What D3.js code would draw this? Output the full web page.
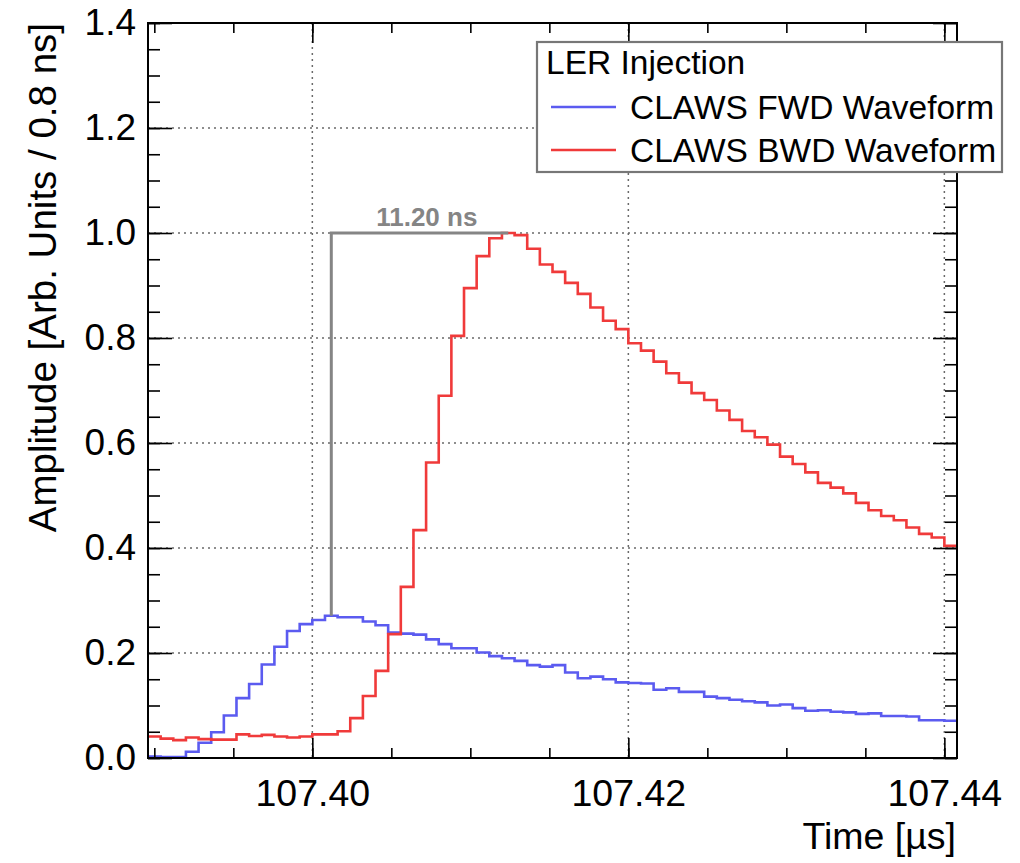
<!DOCTYPE html>
<html><head><meta charset="utf-8">
<script src="https://cdn.jsdelivr.net/npm/d3@7"></script>
<style>body{margin:0;background:#fff}</style>
</head><body>
<svg id="c" width="1020" height="863"></svg>
<script>
// ---- data ----
const binStart = 107.3896;      // µs, left edge of first bin
const binWidth = 0.0008;        // µs (0.8 ns)
const fwdWaveform = [0.003,0.002,0.002,0.012,0.029,0.049,0.081,0.114,0.141,0.178,
  0.212,0.242,0.255,0.263,0.271,0.268,0.268,0.260,0.253,0.239,
  0.237,0.235,0.226,0.217,0.209,0.209,0.201,0.194,0.190,0.185,
  0.177,0.174,0.177,0.163,0.152,0.155,0.150,0.144,0.143,0.142,
  0.130,0.133,0.126,0.126,0.117,0.114,0.111,0.108,0.106,0.100,
  0.102,0.095,0.090,0.091,0.088,0.087,0.084,0.085,0.080,0.080,
  0.079,0.072,0.072,0.071];
const bwdWaveform = [0.041,0.037,0.034,0.039,0.036,0.035,0.035,0.045,0.042,0.044,
  0.041,0.039,0.041,0.045,0.045,0.051,0.076,0.118,0.166,0.236,
  0.326,0.434,0.563,0.690,0.804,0.895,0.956,0.990,1.000,0.996,
  0.970,0.940,0.926,0.905,0.884,0.858,0.833,0.817,0.790,0.776,
  0.755,0.733,0.715,0.695,0.682,0.662,0.644,0.623,0.611,0.597,
  0.574,0.560,0.544,0.524,0.515,0.504,0.486,0.472,0.461,0.453,
  0.439,0.427,0.420,0.404];
const seriesNames = ["CLAWS FWD Waveform", "CLAWS BWD Waveform"];
const legendTitle = "LER Injection";
const xTickValues = [107.40, 107.42, 107.44];
const xTickLabels = ["107.40", "107.42", "107.44"];
const xMinorTicks = [107.39,107.395,107.40,107.405,107.41,107.415,107.42,107.425,107.43,107.435,107.44];
const yTickValues = [0,0.2,0.4,0.6,0.8,1.0,1.2,1.4];
const yTickLabels = ["0.0","0.2","0.4","0.6","0.8","1.0","1.2","1.4"];
const yMinorTicks = d3.range(0, 29).map(i => i*0.05);
const fwdPeakBin = 14, bwdPeakBin = 28;
const xTitle = "Time [µs]";
const yTitle = "Amplitude [Arb. Units / 0.8 ns]";

// ---- layout ----
const m = {l:148, r:957, t:23, b:758};
const FONT = "'Liberation Sans', Arial, Helvetica, sans-serif";
const blue = "#5b5bf0", red = "#f03a3a";
const nb = fwdWaveform.length;
const x = d3.scaleLinear().domain([binStart, binStart + binWidth*nb]).range([m.l, m.r]);
const y = d3.scaleLinear().domain([0, 1.4]).range([m.b, m.t]);
const svg = d3.select("#c");
svg.append("rect").attr("width",1020).attr("height",863).attr("fill","#fff");

// grid
const grid = svg.append("g").attr("stroke","#6a6a6a").attr("stroke-width",1.5).attr("stroke-dasharray","2,4");
grid.selectAll("line.gx").data(xTickValues).join("line")
  .attr("x1", d=>x(d)).attr("x2", d=>x(d)).attr("y1", m.t).attr("y2", m.b);
grid.selectAll("line.gy").data(yTickValues.slice(1,-1)).join("line")
  .attr("y1", d=>y(d)).attr("y2", d=>y(d)).attr("x1", m.l).attr("x2", m.r);

// histograms
function stepPts(vals){
  const pts = vals.map((v,i)=>[binStart + i*binWidth, v]);
  pts.push([binStart + vals.length*binWidth, vals[vals.length-1]]);
  return pts;
}
const line = d3.line().x(d=>x(d[0])).y(d=>y(d[1])).curve(d3.curveStepAfter);
svg.append("path").attr("d", line(stepPts(fwdWaveform))).attr("fill","none").attr("stroke",blue).attr("stroke-width",2.6);
svg.append("path").attr("d", line(stepPts(bwdWaveform))).attr("fill","none").attr("stroke",red).attr("stroke-width",2.6);

// annotation
const cx = i => x(binStart + (i+0.5)*binWidth);
const ax1 = cx(fwdPeakBin), ax2 = cx(bwdPeakBin);
svg.append("path")
  .attr("d", `M${ax1},${y(fwdWaveform[fwdPeakBin])}V${y(bwdWaveform[bwdPeakBin])}H${ax2}`)
  .attr("fill","none").attr("stroke","#858585").attr("stroke-width",3);
svg.append("text").attr("x",(ax1+ax2)/2+7).attr("y", y(bwdWaveform[bwdPeakBin]) - 7)
  .attr("text-anchor","middle").attr("font-family",FONT).attr("font-weight","bold")
  .attr("font-size",26).attr("fill","#858585")
  .text(((bwdPeakBin-fwdPeakBin)*binWidth*1000).toFixed(2) + " ns");

// axes
function styleAxis(g){ g.select(".domain").remove(); g.selectAll(".tick line").attr("stroke","#000").attr("stroke-width",1.6); }
svg.append("g").attr("transform",`translate(0,${m.b})`)
  .call(d3.axisBottom(x).tickValues(xMinorTicks).tickSize(-10).tickFormat("")).call(styleAxis);
svg.append("g").attr("transform",`translate(0,${m.t})`)
  .call(d3.axisTop(x).tickValues(xMinorTicks).tickSize(-10).tickFormat("")).call(styleAxis);
svg.append("g").attr("transform",`translate(0,${m.b})`)
  .call(d3.axisBottom(x).tickValues(xTickValues).tickSize(-20).tickPadding(21).tickFormat((d,i)=>xTickLabels[i]))
  .call(styleAxis).call(g=>g.selectAll("text").attr("font-family",FONT).attr("font-size",37.5).attr("fill","#000"));
svg.append("g").attr("transform",`translate(0,${m.t})`)
  .call(d3.axisTop(x).tickValues(xTickValues).tickSize(-20).tickFormat("")).call(styleAxis);
svg.append("g").attr("transform",`translate(${m.l},0)`)
  .call(d3.axisLeft(y).tickValues(yMinorTicks).tickSize(-12).tickFormat("")).call(styleAxis);
svg.append("g").attr("transform",`translate(${m.r},0)`)
  .call(d3.axisRight(y).tickValues(yMinorTicks).tickSize(-12).tickFormat("")).call(styleAxis);
svg.append("g").attr("transform",`translate(${m.l},0)`)
  .call(d3.axisLeft(y).tickValues(yTickValues).tickSize(-24).tickPadding(12).tickFormat((d,i)=>yTickLabels[i]))
  .call(styleAxis).call(g=>g.selectAll("text").attr("font-family",FONT).attr("font-size",37).attr("fill","#000"));
svg.append("g").attr("transform",`translate(${m.r},0)`)
  .call(d3.axisRight(y).tickValues(yTickValues).tickSize(-24).tickFormat("")).call(styleAxis);

// frame
svg.append("rect").attr("x",m.l).attr("y",m.t).attr("width",m.r-m.l).attr("height",m.b-m.t)
  .attr("fill","none").attr("stroke","#000").attr("stroke-width",2);

// titles
svg.append("text").attr("x",956).attr("y",849).attr("text-anchor","end")
  .attr("font-family",FONT).attr("font-size",37.5).text(xTitle);
svg.append("text").attr("transform",`translate(56,${m.t}) rotate(-90)`).attr("text-anchor","end")
  .attr("font-family",FONT).attr("font-size",38.5).text(yTitle);

// legend
const lg = svg.append("g");
lg.append("rect").attr("x",537).attr("y",42).attr("width",465).attr("height",130)
  .attr("fill","#fff").attr("stroke","#777").attr("stroke-width",2.2);
lg.append("text").attr("x",546).attr("y",74).attr("font-family",FONT).attr("font-size",33.5).text(legendTitle);
[blue, red].forEach((c,i)=>{
  const yy = 107 + i*43;
  lg.append("line").attr("x1",551).attr("x2",616).attr("y1",yy).attr("y2",yy).attr("stroke",c).attr("stroke-width",2.6);
  lg.append("text").attr("x",630).attr("y",yy+12).attr("font-family",FONT).attr("font-size",33.5).text(seriesNames[i]);
});
</script>
</body></html>
